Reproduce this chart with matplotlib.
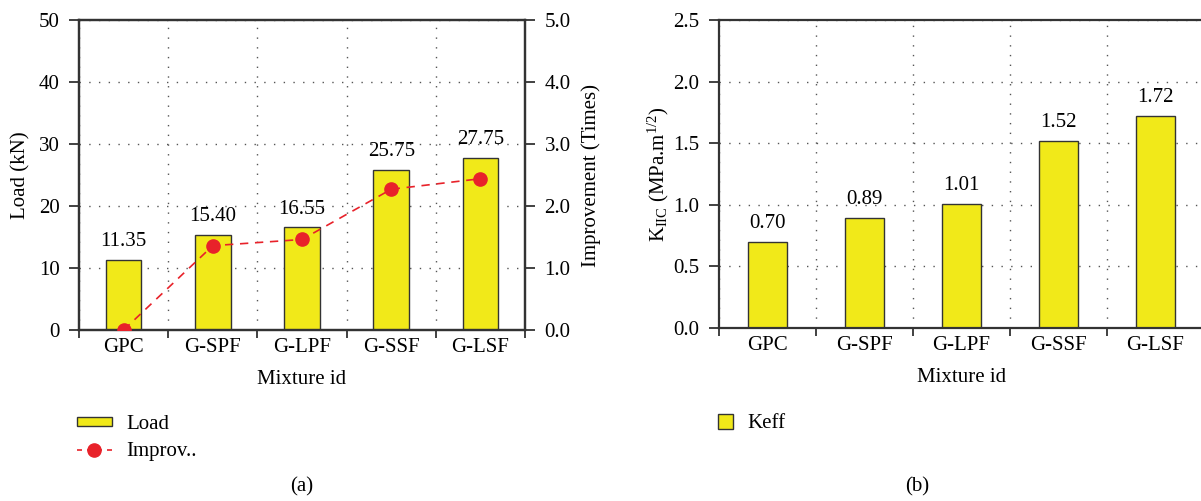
import matplotlib
matplotlib.use("Agg")
import matplotlib.pyplot as plt
import numpy as np
from matplotlib.patches import Patch
from matplotlib.lines import Line2D

plt.rcParams['font.family'] = ['Liberation Serif', 'DejaVu Serif']
plt.rcParams['mathtext.fontset'] = 'custom'
plt.rcParams['mathtext.rm'] = 'Liberation Serif'
plt.rcParams['mathtext.it'] = 'Liberation Serif:italic'
plt.rcParams['font.size'] = 15

mixtures = ['GPC', 'G-SPF', 'G-LPF', 'G-SSF', 'G-LSF']
load_kn = [11.35, 15.40, 16.55, 25.75, 27.75]
improvement = [0.0, 1.36, 1.46, 2.27, 2.44]
keff = [0.70, 0.89, 1.01, 1.52, 1.72]

YELLOW = '#F1E919'
RED = '#E8222A'
EDGE = '#333333'
SPINE = '#333333'

W, H = 1201, 501
fig = plt.figure(figsize=(W / 100, H / 100), dpi=100)


def px_axes(x0, x1, y_bottom, y_top):
    return fig.add_axes([x0 / W, 1 - y_bottom / H, (x1 - x0) / W, (y_bottom - y_top) / H])


def style_axes(ax, ymax, step, fmt):
    x = np.arange(len(mixtures))
    ax.set_xlim(-0.5, len(mixtures) - 0.5)
    ax.set_ylim(0, ymax)
    ax.set_xticks(np.arange(-0.5, len(mixtures)))
    ax.set_xticklabels([])
    ax.set_xticks(x, minor=True)
    ax.set_xticklabels(mixtures, minor=True)
    ax.tick_params(axis='x', which='major', direction='out', length=6, width=1.3, color=SPINE)
    ax.tick_params(axis='x', which='minor', length=0, pad=6)
    ax.set_yticks(np.arange(0, ymax + step / 2, step))
    ax.yaxis.set_major_formatter(fmt)
    ax.tick_params(axis='y', direction='out', length=7, width=1.3, color=SPINE, pad=7)
    ax.grid(True, which='major', linestyle=(0, (1, 6)), linewidth=1.0, color='#555555')
    ax.set_axisbelow(True)
    for s in ax.spines.values():
        s.set_color(SPINE)
        s.set_linewidth(1.6)
    ax.set_xlabel('Mixture id', labelpad=9)
    return x


def label_bars(ax, x, vals, fmt):
    for xi, v in zip(x, vals):
        ax.annotate(fmt.format(v), (xi, v), xytext=(0, 10), textcoords='offset points',
                    ha='center', va='baseline')


# (a) load with improvement ratio on a twin axis
ax1 = px_axes(79, 525, 330, 20)
x = style_axes(ax1, 50, 10, '{x:.0f}')
ax1.bar(x, load_kn, width=0.4, color=YELLOW, edgecolor=EDGE, linewidth=1.0, zorder=2)
label_bars(ax1, x, load_kn, '{:.2f}')
ax1.set_ylabel('Load (kN)', labelpad=6)

ax1b = ax1.twinx()
ax1b.set_ylim(0, 5)
ax1b.set_yticks(np.arange(0, 5.01, 1.0))
ax1b.yaxis.set_major_formatter('{x:.1f}')
ax1b.tick_params(axis='y', direction='out', length=7, width=1.3, color=SPINE, pad=7)
for s in ax1b.spines.values():
    s.set_color(SPINE)
    s.set_linewidth(1.6)
ax1b.plot(x, improvement, linestyle=(0, (5, 4)), color=RED, linewidth=1.2,
          marker='o', markersize=9.5, markerfacecolor=RED, markeredgecolor=RED, zorder=3)
ax1b.set_ylabel('Improvement (Times)', labelpad=8)

fig.legend(handles=[Patch(facecolor=YELLOW, edgecolor=EDGE, linewidth=1.0, label='Load'),
                    Line2D([], [], linestyle=(0, (3, 3)), color=RED, linewidth=1.2, marker='o',
                           markersize=9.5, label='Improv..')],
           loc='upper left', bbox_to_anchor=(62 / W, 1 - 400 / H), frameon=False,
           handlelength=1.7, handleheight=0.3, handletextpad=0.7, labelspacing=0.4,
           borderpad=0.2)
fig.text(302 / W, 1 - 487 / H, '(a)', ha='center', va='center')

# (b) effective mode II fracture toughness
ax2 = px_axes(719, 1204, 328, 20)
x = style_axes(ax2, 2.5, 0.5, '{x:.1f}')
ax2.bar(x, keff, width=0.4, color=YELLOW, edgecolor=EDGE, linewidth=1.0, zorder=2)
label_bars(ax2, x, keff, '{:.2f}')
ax2.set_ylabel(r'K$_{\mathrm{IIC}}$ (MPa.m$^{1/2}$)', labelpad=2)

fig.legend(handles=[Patch(facecolor=YELLOW, edgecolor=EDGE, linewidth=1.0, label='Keff')],
           loc='upper left', bbox_to_anchor=(703 / W, 1 - 399 / H), frameon=False,
           handlelength=0.75, handleheight=0.75, handletextpad=0.7, borderpad=0.2)
fig.text(917 / W, 1 - 487 / H, '(b)', ha='center', va='center')

fig.savefig('out.png', dpi=100)
